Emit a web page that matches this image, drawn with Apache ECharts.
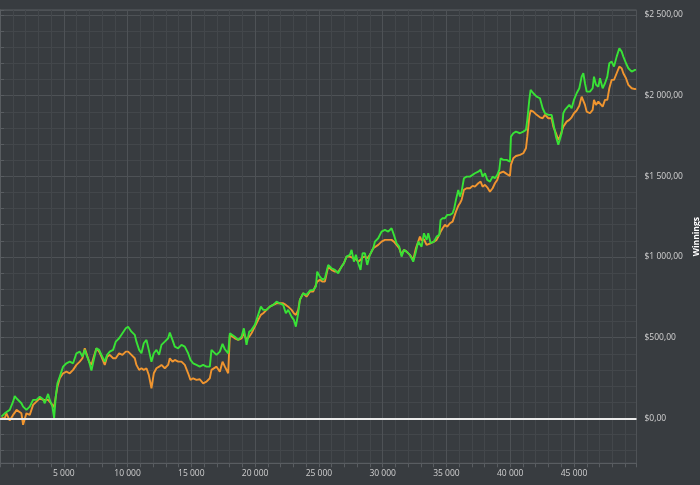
<!DOCTYPE html>
<html><head><meta charset="utf-8">
<script src="https://cdn.jsdelivr.net/npm/echarts@6/dist/echarts.min.js"></script>
<style>html,body{margin:0;padding:0;background:#383c40;}#c{width:700px;height:485px;}</style>
</head><body><div id="c"></div>
<script>
// Hands played (x values)
const hands = [111,372,503,764,1026,1156,1287,1418,1679,1810,2071,2333,2594,2725,2855,3117,3378,3509,3770,3901,4110,4241,4372,4502,4685,4947,5208,5469,5731,5992,6254,6463,6646,6776,6986,7169,7352,7561,7770,7953,8214,8397,8606,8868,9077,9338,9600,9861,10044,10305,10567,10697,10907,11090,11273,11482,11665,11874,12057,12266,12475,12658,12919,13181,13311,13521,13704,13965,14226,14488,14749,14932,15141,15403,15664,15925,16187,16448,16579,
16713,16974,17235,17445,17628,17889,18020,18150,18412,18673,18935,19118,19327,19536,19719,19980,20242,20451,20634,20895,21156,21418,21679,21941,22202,22411,22594,22856,23038,23195,23378,23509,23770,24032,24293,24555,24764,24868,25077,25287,25470,25731,25992,26254,26515,26777,26960,27169,27430,27561,27744,27901,28084,28267,28424,28606,28789,28998,29260,29391,29652,29913,30175,30436,30698,30881,31090,31299,31482,31665,31874,32135,32397,32606,32789,
32921,33052,33235,33444,33575,33758,34019,34228,34437,34542,34699,34882,35065,35274,35483,35614,35744,35927,36058,36189,36372,36581,36842,37051,37234,37496,37679,37836,38019,38201,38411,38620,38803,38986,39143,39247,39456,39718,39979,40057,40240,40450,
40764,41025,41235,41339,41496,41600,41810,42071,42332,42542,42725,42986,43247,43378,43587,43770,43901,44032,44162,44293,44424,44633,44816,44999,45208,45417,45600,45731,45861,45992,46253,46463,46567,46724,46907,47038,47247,47430,47613,47770,47953,48136,48345,48554,48737,48867,49077,49260,49521,49782,49861];

// Green series (winnings)
const greenValues = [10,31,41,52,103,138,124,114,93,72,52,72,114,124,114,134,118,93,151,114,72,0,134,217,258,320,341,351,341,403,413,382,424,393,351,296,362,434,424,393,351,393,413,424,475,496,527,558,568,537,517,475,424,403,465,486,424,351,403,424,393,455,475,496,531,486,444,434,455,444,403,362,341,331,320,331,320,320,424,
413,393,413,461,428,403,527,527,506,486,506,558,455,537,548,579,641,692,672,672,692,703,723,713,703,651,672,630,610,568,651,734,775,765,792,796,816,909,878,858,868,951,930,920,899,940,961,1002,1013,1044,971,1013,961,920,1023,1023,951,1013,1054,1095,1116,1157,1168,1157,1178,1137,1085,1064,1002,1044,1033,1013,971,1033,1095,
1106,1064,1147,1106,1147,1085,1095,1126,1137,1230,1240,1240,1261,1261,1271,1302,1354,1416,1374,1405,1488,1498,1498,1509,1519,1529,1540,1498,1519,1478,1467,1498,1488,1509,1540,1612,1602,1602,1591,1746,1767,1777,
1767,1777,1788,1850,1974,2036,2015,1994,1984,1922,1891,1881,1881,1829,1746,1695,1705,1767,1891,1912,1912,1943,1922,1974,2015,2046,2118,2139,2077,2025,2025,2046,2118,2067,2056,2108,2046,2077,2118,2201,2211,2180,2242,2294,2273,2242,2201,2170,2149,2160,2160];

// Orange series
const orangeValues = [0,0,31,-14,21,35,52,41,31,-40,31,21,83,93,103,124,114,103,114,103,83,68,134,196,248,279,289,279,300,331,351,372,434,403,351,331,382,434,413,382,331,382,393,372,372,403,393,413,413,393,372,331,300,310,300,310,269,186,279,310,320,331,310,331,372,351,362,351,351,331,279,238,248,238,242,217,227,248,300,
300,320,289,351,320,279,517,506,496,486,496,527,486,506,527,568,610,641,651,672,692,703,713,713,713,703,692,672,651,641,672,734,775,754,785,785,827,847,858,847,847,940,920,909,909,940,961,1002,1002,1013,992,986,971,982,998,1002,992,1013,1054,1060,1075,1095,1106,1106,1106,1095,1075,1054,1013,1044,1033,1013,982,1054,1095,
1126,1102,1110,1075,1081,1085,1095,1106,1137,1157,1178,1199,1188,1209,1219,1250,1281,1317,1333,1354,1416,1426,1426,1441,1436,1457,1467,1436,1447,1432,1405,1426,1457,1478,1519,1529,1529,1515,1502,1571,1612,1626,
1633,1643,1674,1746,1870,1908,1901,1881,1866,1860,1881,1860,1860,1808,1767,1726,1746,1777,1808,1819,1839,1850,1866,1891,1908,1937,1994,2005,1943,1901,1891,1912,1974,1943,1963,1963,1932,1974,1974,2046,2098,2098,2139,2180,2170,2139,2108,2067,2046,2040,2044];

const xRange = [0, 49900];
const xStep = 5000;
const yRange = [-279, 2531];
const yStep = 500;

function groupDigits(v) {
  return String(Math.round(Math.abs(v))).replace(/\B(?=(\d{3})+(?!\d))/g, '\u00a0');
}

const axisGray = '#595d61';
const majorGrid = '#4e5256';
const minorGrid = '#43474b';
const labelFont = "'Open Sans', 'Noto Sans', sans-serif";

const chart = echarts.init(document.getElementById('c'));
chart.setOption({
  backgroundColor: '#383c40',
  animation: false,
  grid: { left: 0, right: 63.5, top: 10, bottom: 21.7, show: true, borderColor: axisGray, borderWidth: 1,
          containLabel: false, outerBoundsMode: 'none' },
  xAxis: {
    type: 'value', min: xRange[0], max: xRange[1], interval: xStep,
    axisLine: { show: true, onZero: false, lineStyle: { color: axisGray } },
    axisTick: { show: true, length: 4, lineStyle: { color: axisGray } },
    minorTick: { show: true, splitNumber: 5, length: 4, lineStyle: { color: axisGray } },
    splitLine: { show: true, lineStyle: { color: majorGrid, width: 1 } },
    minorSplitLine: { show: true, lineStyle: { color: minorGrid, width: 1 } },
    axisLabel: {
      color: '#cfcfcf', fontSize: 8.5, fontFamily: labelFont, margin: 6,
      formatter: v => (v > 0 && v % xStep === 0) ? groupDigits(v) : ''
    }
  },
  yAxis: {
    type: 'value', position: 'right', min: yRange[0], max: yRange[1], splitNumber: 5,
    name: 'Winnings', nameLocation: 'middle', nameGap: 56, nameRotate: 90, nameMoveOverlap: false,
    nameTextStyle: { color: '#ffffff', fontWeight: 'bold', fontSize: 8.5, fontFamily: labelFont },
    axisLine: { show: true, lineStyle: { color: axisGray } },
    axisTick: { show: true, length: 4, lineStyle: { color: axisGray } },
    minorTick: { show: true, splitNumber: 5, length: 4, lineStyle: { color: axisGray } },
    splitLine: { show: true, lineStyle: { color: majorGrid, width: 1 } },
    minorSplitLine: { show: true, lineStyle: { color: minorGrid, width: 1 } },
    axisLabel: {
      color: '#d2d2d2', fontSize: 8.5, fontFamily: labelFont, margin: 8,
      formatter: v => (v >= 0 && v % yStep === 0) ? '$' + groupDigits(v) + ',00' : ''
    }
  },
  series: [
    {
      type: 'line', name: 'Orange', showSymbol: false, symbol: 'none',
      data: hands.map((h, i) => [h, orangeValues[i]]),
      lineStyle: { color: '#f0952f', width: 1.9 }, itemStyle: { color: '#f0952f' }, z: 2
    },
    {
      type: 'line', name: 'Green', showSymbol: false, symbol: 'none',
      data: hands.map((h, i) => [h, greenValues[i]]),
      lineStyle: { color: '#38e236', width: 1.9 }, itemStyle: { color: '#38e236' }, z: 3,
      markLine: {
        silent: true, symbol: 'none', label: { show: false },
        lineStyle: { color: '#ececec', width: 2, type: 'solid' },
        data: [{ yAxis: 0 }]
      }
    }
  ]
});
</script></body></html>
